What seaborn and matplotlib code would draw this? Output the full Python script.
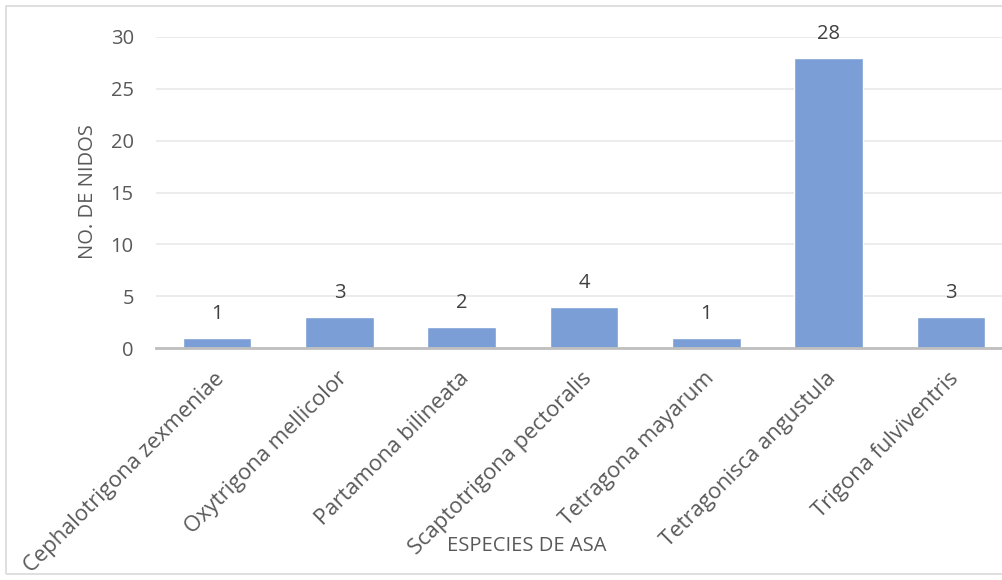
import matplotlib
matplotlib.use("Agg")
import matplotlib.pyplot as plt
import matplotlib.transforms as mtransforms
from matplotlib.patches import Rectangle
import seaborn as sns
import pandas as pd

especies = ["Cephalotrigona zexmeniae", "Oxytrigona mellicolor", "Partamona bilineata",
            "Scaptotrigona pectoralis", "Tetragona mayarum", "Tetragonisca angustula",
            "Trigona fulviventris"]
nidos = [1, 3, 2, 4, 1, 28, 3]
yticks = [0, 5, 10, 15, 20, 25, 30]

sns.set_theme(style="white")
plt.rcParams['font.family'] = ['Open Sans', 'DejaVu Sans']

df = pd.DataFrame({"especie": especies, "nidos": nidos})
fs = 14.5

fig = plt.figure(figsize=(10.03, 5.8), dpi=100)
fig.patches.append(Rectangle((6 / 1003, 6 / 580), 1.05, 1 - 12 / 580,
                             transform=fig.transFigure, fill=False,
                             edgecolor="#d9d9d9", linewidth=1.2))
ax = fig.add_axes([156 / 1003, 232 / 580, (1012 - 156) / 1003, (348 - 37) / 580])

sns.barplot(data=df, x="especie", y="nidos", color="#7b9ed6", saturation=1,
            width=0.56, ax=ax, zorder=3)

ax.set_ylim(0, 30)
ax.set_yticks(yticks)
ax.grid(axis="y", color="#ebebeb", linewidth=1.3, zorder=0)
for s in ["top", "left", "right"]:
    ax.spines[s].set_visible(False)
ax.spines["bottom"].set_color("#bfbfbf")
ax.spines["bottom"].set_linewidth(2)
ax.spines["bottom"].set_zorder(4)

ax.tick_params(axis="both", length=0, labelsize=fs, labelcolor="#595959")
ax.tick_params(axis="y", pad=16)

# rotated category labels, top-right corner just below the axis at each tick
offset = mtransforms.ScaledTranslation(-3 / 100, -20 / 100, fig.dpi_scale_trans)
ax.set_xticks(range(len(especies)))
ax.set_xticklabels(especies, rotation=45, ha="right", va="top", rotation_mode="anchor",
                   fontsize=15.8, color="#595959")
ax.tick_params(axis="x", pad=0)
for lbl in ax.get_xticklabels():
    lbl.set_transform(lbl.get_transform() + offset)

ax.bar_label(ax.containers[0], padding=10, fontsize=fs, color="#404040", clip_on=False)

ax.set_xlabel("")
ax.set_ylabel("")
fig.text(527 / 1003, 1 - 546 / 580, "ESPECIES DE ASA", ha="center", va="center",
         fontsize=fs, color="#595959")
fig.text(88 / 1003, 1 - 192 / 580, "NO. DE NIDOS", ha="center", va="center",
         rotation=90, fontsize=fs, color="#595959")

fig.savefig("out.png", dpi=100)
